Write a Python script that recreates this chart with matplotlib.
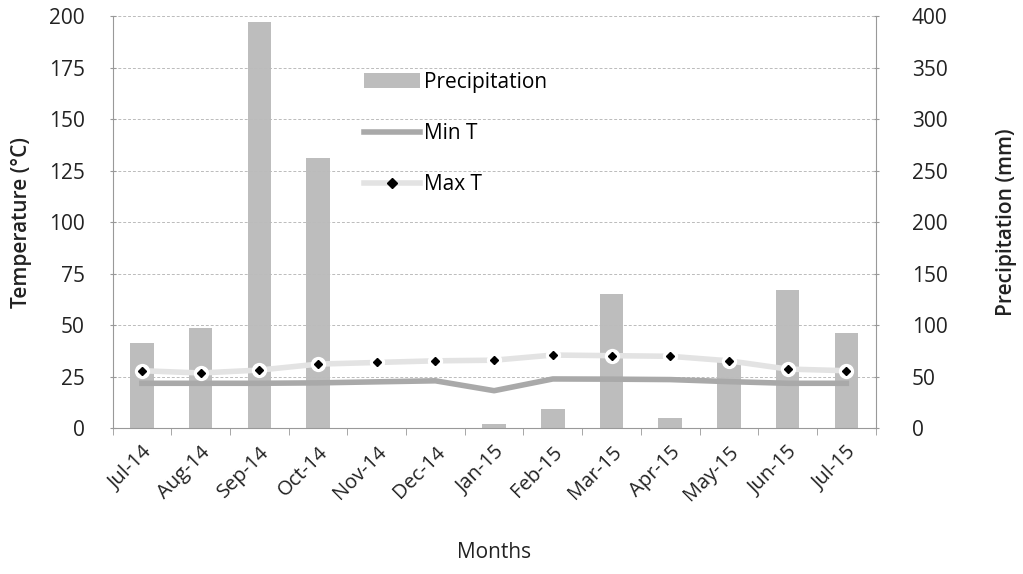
import matplotlib
matplotlib.use("Agg")
import matplotlib.pyplot as plt
import numpy as np
from matplotlib.lines import Line2D
from matplotlib.patches import Patch

months = ["Jul-14", "Aug-14", "Sep-14", "Oct-14", "Nov-14", "Dec-14", "Jan-15",
          "Feb-15", "Mar-15", "Apr-15", "May-15", "Jun-15", "Jul-15"]
precip_mm = [83, 97, 394, 262, 0, 0, 4, 19, 130, 10, 65, 134, 92]
min_t = [21.8, 21.8, 21.8, 22.0, 22.5, 23.0, 18.2, 23.9, 23.8, 23.6, 22.6, 21.8, 21.8]
max_t = [27.9, 26.8, 28.2, 31.1, 31.9, 32.7, 33.0, 35.5, 35.2, 34.9, 32.7, 28.7, 27.9]

plt.rcParams['font.family'] = ['Open Sans', 'DejaVu Sans']

fig = plt.figure(figsize=(10.23, 5.74), dpi=100)
ax = fig.add_axes([0.110, 0.254, 0.746, 0.718])
ax2 = ax.twinx()

x = np.arange(len(months))

# bars on right axis
ax2.bar(x, precip_mm, width=0.4, color='#bdbdbd', edgecolor='none', zorder=1)
ax2.set_ylim(0, 400)
ax2.set_yticks(np.arange(0, 401, 50))

# temperature axis drawn on top
ax.set_zorder(ax2.get_zorder() + 1)
ax.patch.set_visible(False)

ax.plot(x, min_t, color='#a9a9a9', lw=4, zorder=3)
ax.plot(x, max_t, color='#e3e3e3', lw=4, zorder=3)
ax.plot(x, max_t, linestyle='none', marker='o', markersize=11,
        markerfacecolor='white', markeredgecolor='none', zorder=4)
ax.plot(x, max_t, linestyle='none', marker='D', markersize=4,
        markerfacecolor='black', markeredgecolor='black', zorder=5)

ax.set_ylim(0, 200)
ax.set_yticks(np.arange(0, 201, 25))
ax.set_xlim(-0.5, len(months) - 0.5)
ax.set_xticks(x)
ax.set_xticklabels(months, rotation=45, ha='right', rotation_mode='anchor')
ax.set_xticks(np.arange(-0.5, len(months), 1), minor=True)
ax.tick_params(axis='x', which='major', length=0, pad=10)
ax.tick_params(axis='x', which='minor', length=5, color='#999999')
ax.grid(axis='y', color='#bbbbbb', linestyle=(0, (3, 2)), lw=0.7)
ax.set_axisbelow(True)

for a in (ax, ax2):
    for s in a.spines.values():
        s.set_visible(False)
    a.tick_params(axis='y', labelsize=15, colors='#222222', length=4,
                  direction='inout', color='#999999')
ax.tick_params(axis='y', pad=18)
ax2.tick_params(axis='y', pad=24)
ax.tick_params(axis='x', labelsize=14.5, colors='#222222')
ax.spines['left'].set_visible(True)
ax.spines['left'].set_color('#999999')
ax.spines['bottom'].set_visible(True)
ax.spines['bottom'].set_color('#999999')
ax2.spines['right'].set_visible(True)
ax2.spines['right'].set_color('#999999')

ax.set_ylabel("Temperature (°C)", fontsize=15, fontweight='semibold', color='#222222', labelpad=12)
ax2.set_ylabel("Precipitation (mm)", fontsize=15, fontweight='semibold', color='#222222', labelpad=35)
ax.set_xlabel("Months", fontsize=15, color='#222222', labelpad=27)

handles = [Patch(facecolor='#bdbdbd', edgecolor='none'),
           Line2D([], [], color='#a9a9a9', lw=4),
           Line2D([], [], color='#e3e3e3', lw=4, marker='D', markersize=5,
                  markerfacecolor='black', markeredgecolor='black')]
ax.legend(handles, ["Precipitation", "Min T", "Max T"], loc='upper left',
          bbox_to_anchor=(0.305, 0.91), frameon=False, fontsize=15,
          labelspacing=1.45, handlelength=2.7, handletextpad=0.2)

fig.savefig("out.png", dpi=100)
